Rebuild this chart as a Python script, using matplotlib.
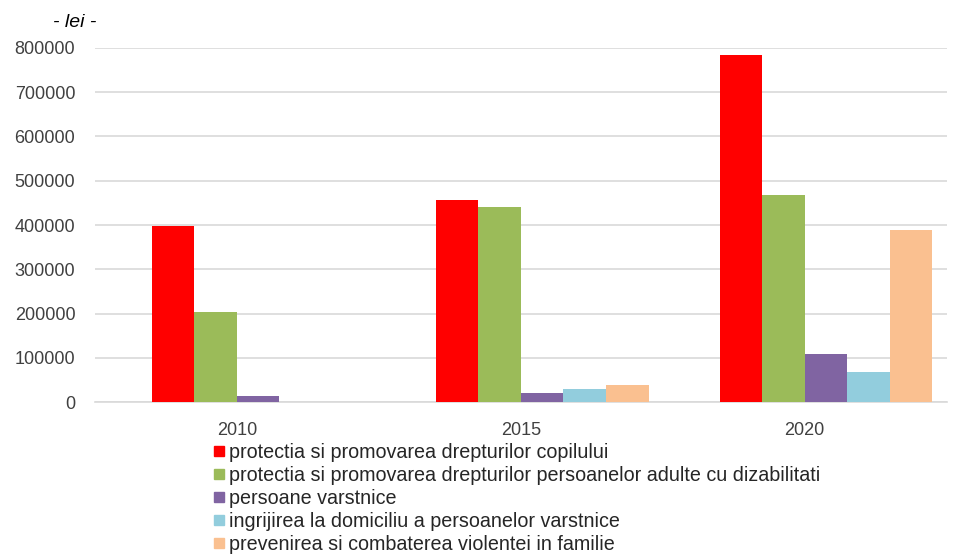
import numpy as np
import matplotlib.pyplot as plt
from matplotlib.lines import Line2D

plt.rcParams['font.family'] = ['Liberation Sans', 'DejaVu Sans']

# Data
years = ['2010', '2015', '2020']
series_names = [
    'protectia si promovarea drepturilor copilului',
    'protectia si promovarea drepturilor persoanelor adulte cu dizabilitati',
    'persoane varstnice',
    'ingrijirea la domiciliu a persoanelor varstnice',
    'prevenirea si combaterea violentei in familie',
]
copil = [398000, 456000, 784000]
adulti = [203000, 440000, 468000]
varstnice = [15000, 20000, 108000]
ingrijire = [0, 30000, 68000]
violenta = [0, 38000, 389000]
values = [copil, adulti, varstnice, ingrijire, violenta]
colors = ['#FF0000', '#9BBB59', '#8064A2', '#92CDDD', '#FAC090']

fig = plt.figure(figsize=(9.67, 5.57), dpi=100)
ax = fig.add_axes([0.098, 0.278, 0.881, 0.636])

x = np.arange(len(years))
w = 0.15
# six slots per category, first one empty (as in the original spreadsheet)
for k, vals in enumerate(values):
    off = (k + 1 - 2.5) * w
    ax.bar(x + off, vals, width=w, color=colors[k], label=series_names[k], zorder=3)

ax.set_xlim(-0.5, 2.5)
ax.set_ylim(0, 800000)
ax.set_yticks(np.arange(0, 800001, 100000))
ax.set_yticklabels([str(v) for v in range(0, 800001, 100000)])
ax.set_xticks(x)
ax.set_xticklabels(years)
ax.grid(axis='y', color='#D9D9D9', linewidth=1.2, zorder=0)
for s in ['top', 'right', 'left']:
    ax.spines[s].set_visible(False)
ax.spines['bottom'].set_color('#D9D9D9')
ax.spines['bottom'].set_linewidth(1.2)
ax.tick_params(axis='both', length=0, labelsize=13, colors='#404040')
ax.tick_params(axis='y', pad=14)
ax.tick_params(axis='x', pad=14)

fig.text(0.055, 0.959, '- lei -', fontsize=14, style='italic', color='black', va='center')

handles = [Line2D([0], [0], marker='s', linestyle='', markersize=7,
                  markerfacecolor=c, markeredgecolor=c) for c in colors]
fig.legend(handles, series_names, loc='upper left', bbox_to_anchor=(0.218, 0.205),
           frameon=False, fontsize=14.2, handletextpad=0.1, handlelength=0.8,
           labelspacing=0.2, borderaxespad=0, borderpad=0, labelcolor='#262626')

plt.savefig('out.png', dpi=100)
